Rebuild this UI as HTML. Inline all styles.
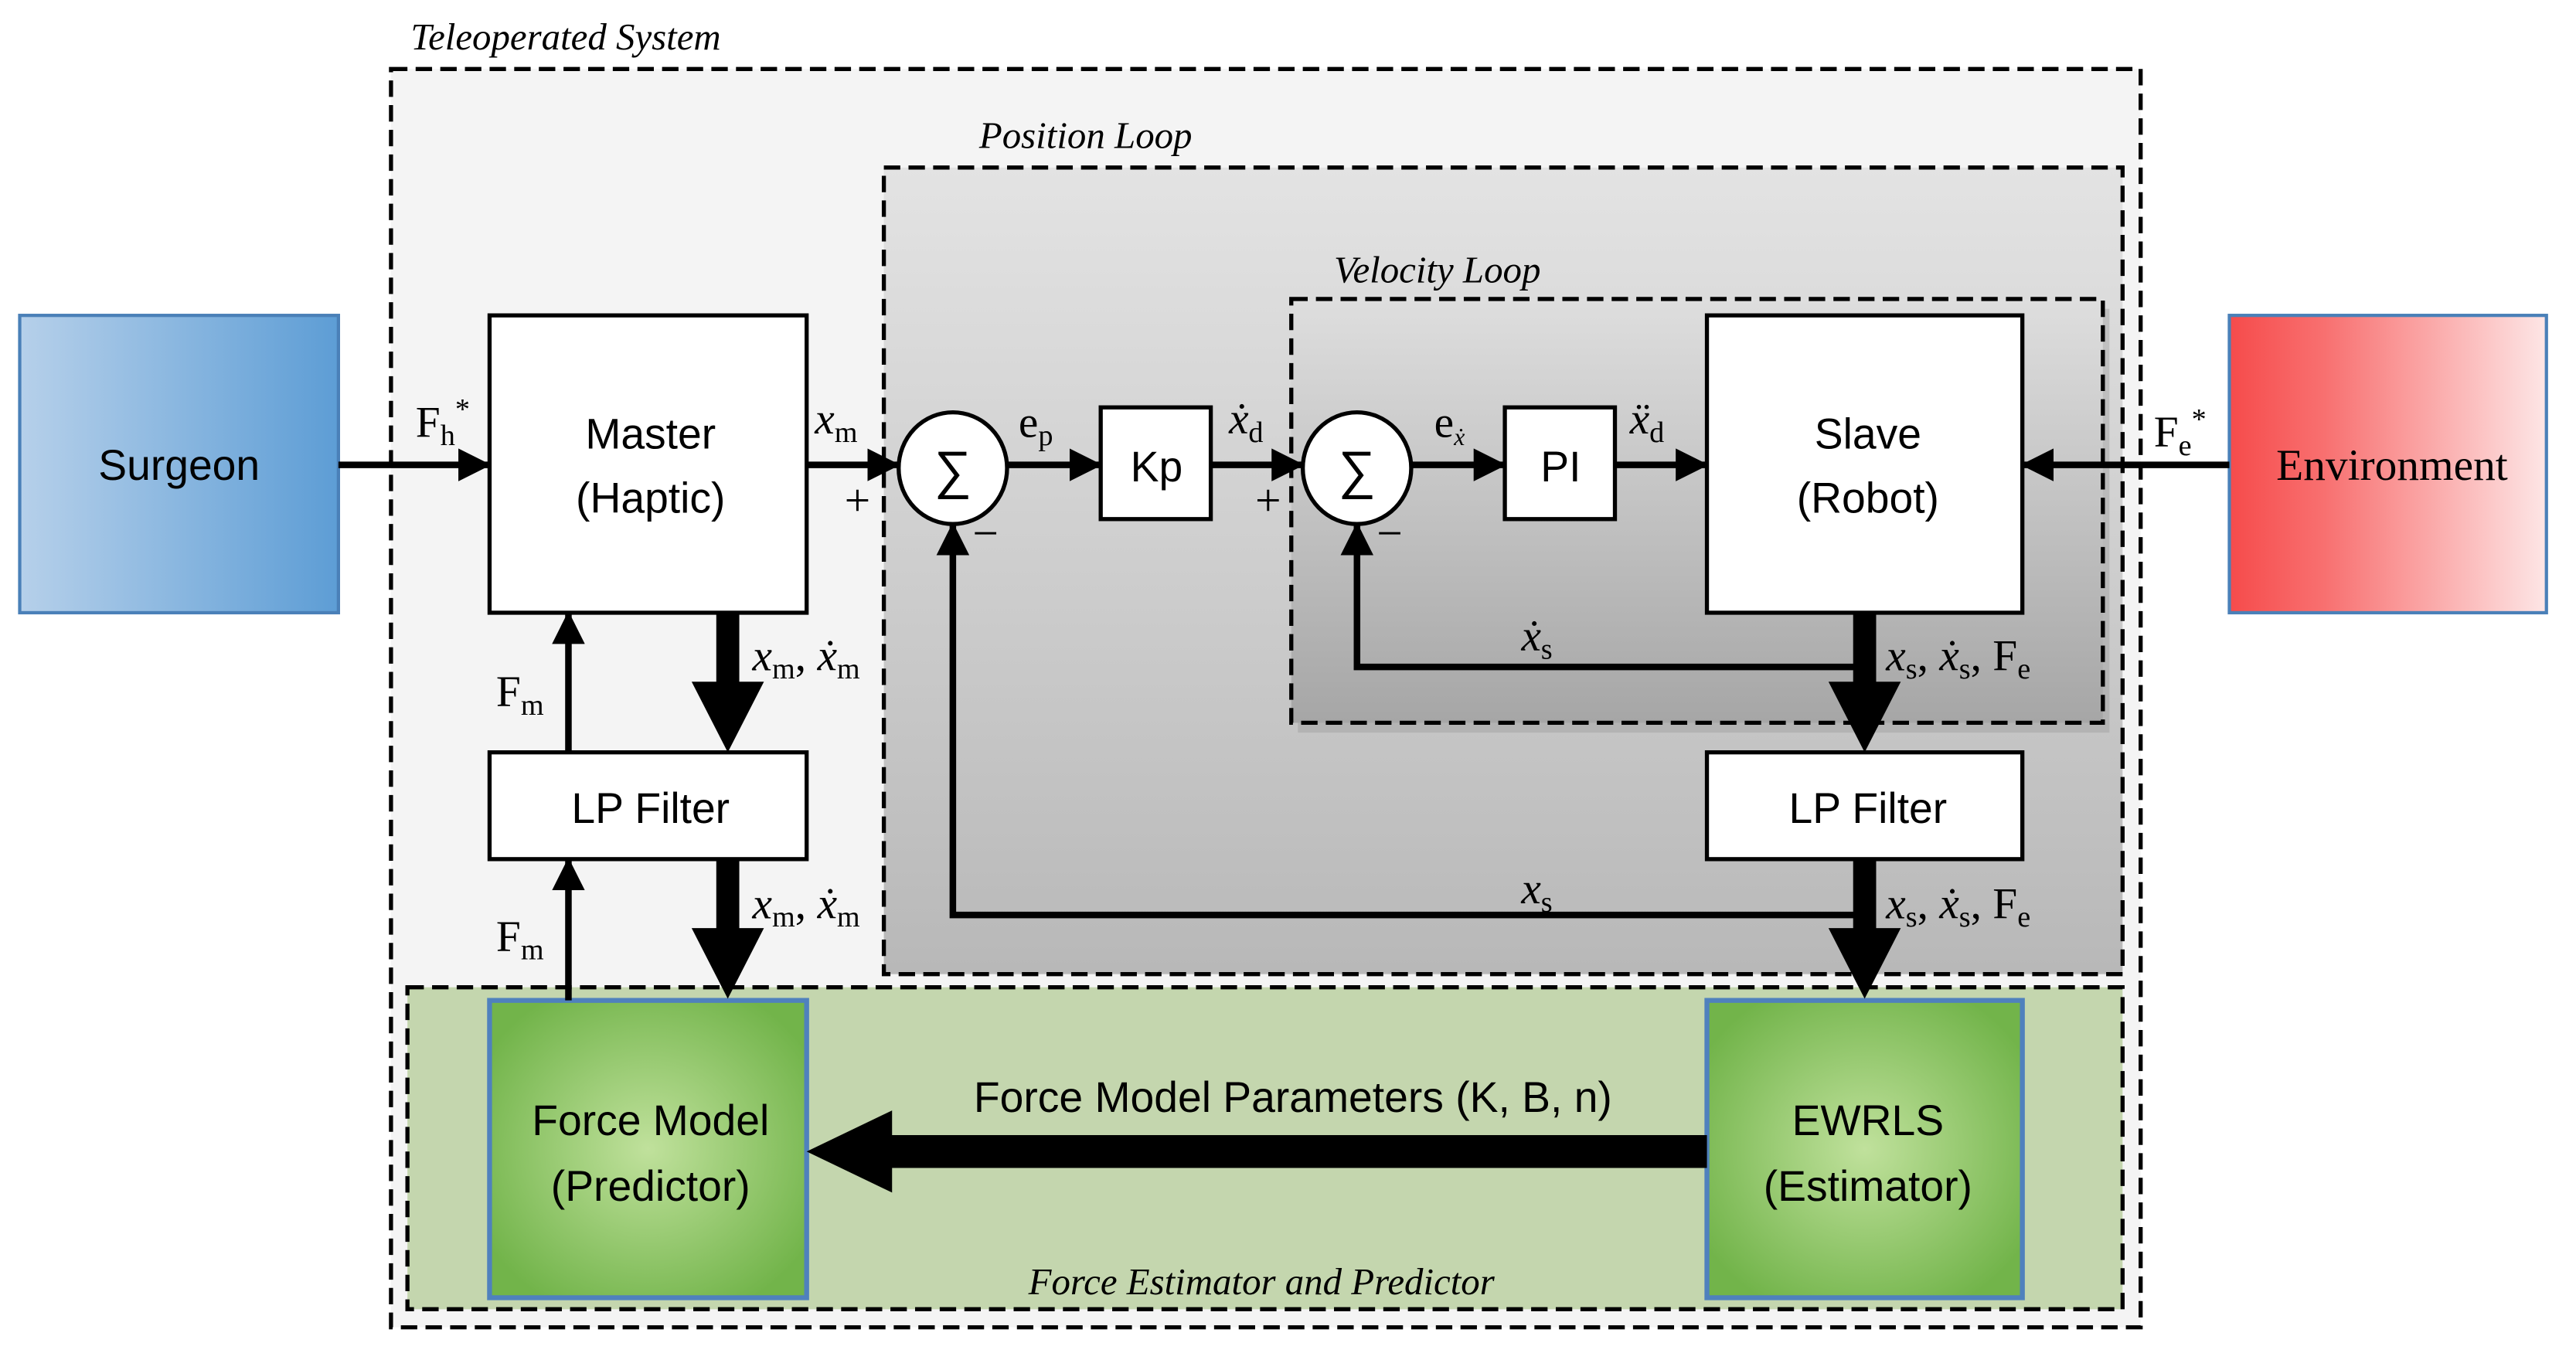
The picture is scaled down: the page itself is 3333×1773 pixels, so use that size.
<!DOCTYPE html>
<html><head><meta charset="utf-8"><style>
html,body{margin:0;padding:0;background:#fff;}
svg{display:block;}
.s{font-family:"Liberation Sans",sans-serif;font-size:26px;}
.m{font-family:"Liberation Serif",serif;font-size:27px;}
.i{font-family:"Liberation Serif",serif;font-style:italic;font-size:23px;}
</style></head><body>
<svg width="3333" height="1773" viewBox="0 0 1568 834" preserveAspectRatio="none" xmlns="http://www.w3.org/2000/svg">
<defs>
<linearGradient id="sg" x1="0" x2="1"><stop offset="0" stop-color="#b6d0ea"/><stop offset="1" stop-color="#5d9dd5"/></linearGradient>
<linearGradient id="eg" x1="0" x2="1"><stop offset="0" stop-color="#f64b4b"/><stop offset="0.3" stop-color="#f87070"/><stop offset="1" stop-color="#fde6e6"/></linearGradient>
<linearGradient id="pg" x1="0" y1="0" x2="0" y2="1"><stop offset="0" stop-color="#e3e3e3"/><stop offset="1" stop-color="#b8b8b8"/></linearGradient>
<linearGradient id="vg" x1="0" y1="0" x2="0" y2="1"><stop offset="0" stop-color="#dedede"/><stop offset="1" stop-color="#a6a6a6"/></linearGradient>
<radialGradient id="gg" cx="0.5" cy="0.5" r="0.6"><stop offset="0" stop-color="#c0e19c"/><stop offset="1" stop-color="#72b44a"/></radialGradient>
<marker id="a" markerWidth="20" markerHeight="20" refX="19" refY="10" orient="auto" markerUnits="userSpaceOnUse"><path d="M0,0 L20,10 L0,20 z"/></marker>
</defs>
<rect width="1568" height="834" fill="#fff"/>
<rect x="238" y="42" width="1065" height="766" fill="#f4f4f4" stroke="#000" stroke-width="2.5" stroke-dasharray="10,5"/>
<text x="250" y="30" class="i">Teleoperated System</text>
<rect x="538" y="102" width="754" height="491" fill="url(#pg)" stroke="#000" stroke-width="2.5" stroke-dasharray="10,5"/>
<text x="596" y="90" class="i">Position Loop</text>
<rect x="790" y="188" width="494" height="258" fill="#999" opacity="0.4"/>
<rect x="786" y="182" width="494" height="258" fill="url(#vg)" stroke="#000" stroke-width="2.5" stroke-dasharray="10,5"/>
<text x="812" y="172" class="i">Velocity Loop</text>
<rect x="248" y="601" width="1044" height="196" fill="#c4d6ae" stroke="#000" stroke-width="2.5" stroke-dasharray="10,5"/>
<text x="626" y="788" class="i">Force Estimator and Predictor</text>
<rect x="12" y="192" width="194" height="181" fill="url(#sg)" stroke="#4a80b8" stroke-width="2"/>
<text x="109" y="292" class="s" text-anchor="middle">Surgeon</text>
<rect x="1357" y="192" width="193" height="181" fill="url(#eg)" stroke="#4a80b8" stroke-width="2"/>
<text x="1456" y="292" class="m" text-anchor="middle">Environment</text>
<g fill="#fff" stroke="#000" stroke-width="2.5">
<rect x="298" y="192" width="193" height="181"/>
<rect x="1039" y="192" width="192" height="181"/>
<rect x="670" y="248" width="67" height="68"/>
<rect x="916" y="248" width="67" height="68"/>
<rect x="298" y="458" width="193" height="65"/>
<rect x="1039" y="458" width="192" height="65"/>
<ellipse cx="580" cy="285" rx="33" ry="34"/>
<ellipse cx="826" cy="285" rx="33" ry="34"/>
</g>
<rect x="298" y="609" width="193" height="181" fill="url(#gg)" stroke="#4f81bd" stroke-width="3"/>
<rect x="1039" y="609" width="192" height="181" fill="url(#gg)" stroke="#4f81bd" stroke-width="3"/>
<g class="s" text-anchor="middle">
<text x="396" y="273">Master</text><text x="396" y="312">(Haptic)</text>
<text x="1137" y="273">Slave</text><text x="1137" y="312">(Robot)</text>
<text x="704" y="293">Kp</text><text x="950" y="293">PI</text>
<text x="396" y="501">LP Filter</text><text x="1137" y="501">LP Filter</text>
<text x="396" y="691">Force Model</text><text x="396" y="731">(Predictor)</text>
<text x="1137" y="691">EWRLS</text><text x="1137" y="731">(Estimator)</text>
<text x="787" y="677">Force Model Parameters (K, B, n)</text>
<text x="580" y="297" font-size="32">∑</text><text x="826" y="297" font-size="32">∑</text>
</g>
<g stroke="#000" stroke-width="4" fill="none">
<line x1="206" y1="283" x2="298" y2="283" marker-end="url(#a)"/>
<line x1="491" y1="283" x2="547" y2="283" marker-end="url(#a)"/>
<line x1="613" y1="283" x2="670" y2="283" marker-end="url(#a)"/>
<line x1="737" y1="283" x2="793" y2="283" marker-end="url(#a)"/>
<line x1="859" y1="283" x2="916" y2="283" marker-end="url(#a)"/>
<line x1="983" y1="283" x2="1039" y2="283" marker-end="url(#a)"/>
<line x1="1357" y1="283" x2="1231" y2="283" marker-end="url(#a)"/>
<polyline points="1135,406 826,406 826,319" marker-end="url(#a)"/>
<polyline points="1135,557 580,557 580,319" marker-end="url(#a)"/>
<line x1="346" y1="458" x2="346" y2="373" marker-end="url(#a)"/>
<line x1="346" y1="609" x2="346" y2="523" marker-end="url(#a)"/>
</g>
<g fill="#000">
<rect x="436" y="373" width="14" height="44"/><path d="M421,415 L465,415 L443,458 z"/>
<rect x="436" y="523" width="14" height="44"/><path d="M421,565 L465,565 L443,608 z"/>
<rect x="1128" y="373" width="14" height="44"/><path d="M1113,415 L1157,415 L1135,458 z"/>
<rect x="1128" y="523" width="14" height="44"/><path d="M1113,565 L1157,565 L1135,608 z"/>
<rect x="541" y="691" width="498" height="20"/><path d="M543,676 L543,726 L491,701 z"/>
</g>
<g class="m">
<text x="253" y="266">F<tspan font-size="18" dy="5">h</tspan><tspan font-size="18" dy="-16">*</tspan></text>
<text x="1311" y="272">F<tspan font-size="18" dy="5">e</tspan><tspan font-size="18" dy="-16">*</tspan></text>
<text x="496" y="264"><tspan font-style="italic">x</tspan><tspan font-size="18" dy="5">m</tspan></text>
<text x="620" y="266">e<tspan font-size="18" dy="5">p</tspan></text>
<text x="748" y="264"><tspan font-style="italic">ẋ</tspan><tspan font-size="18" dy="5">d</tspan></text>
<text x="873" y="266">e<tspan font-size="15" dy="5" font-style="italic">ẋ</tspan></text>
<text x="992" y="264"><tspan font-style="italic">ẍ</tspan><tspan font-size="18" dy="5">d</tspan></text>
<text x="458" y="408"><tspan font-style="italic">x</tspan><tspan font-size="18" dy="5">m</tspan><tspan dy="-5">, </tspan><tspan font-style="italic">ẋ</tspan><tspan font-size="18" dy="5">m</tspan></text>
<text x="458" y="559"><tspan font-style="italic">x</tspan><tspan font-size="18" dy="5">m</tspan><tspan dy="-5">, </tspan><tspan font-style="italic">ẋ</tspan><tspan font-size="18" dy="5">m</tspan></text>
<text x="1148" y="408"><tspan font-style="italic">x</tspan><tspan font-size="18" dy="5">s</tspan><tspan dy="-5">, </tspan><tspan font-style="italic">ẋ</tspan><tspan font-size="18" dy="5">s</tspan><tspan dy="-5">, F</tspan><tspan font-size="18" dy="5">e</tspan></text>
<text x="1148" y="559"><tspan font-style="italic">x</tspan><tspan font-size="18" dy="5">s</tspan><tspan dy="-5">, </tspan><tspan font-style="italic">ẋ</tspan><tspan font-size="18" dy="5">s</tspan><tspan dy="-5">, F</tspan><tspan font-size="18" dy="5">e</tspan></text>
<text x="926" y="396"><tspan font-style="italic">ẋ</tspan><tspan font-size="18" dy="5">s</tspan></text>
<text x="926" y="550"><tspan font-style="italic">x</tspan><tspan font-size="18" dy="5">s</tspan></text>
<text x="302" y="430">F<tspan font-size="18" dy="5">m</tspan></text>
<text x="302" y="579">F<tspan font-size="18" dy="5">m</tspan></text>
<text x="514" y="314" font-size="28">+</text><text x="592" y="334" font-size="28">−</text>
<text x="764" y="314" font-size="28">+</text><text x="838" y="334" font-size="28">−</text>
</g>
</svg>
</body></html>
